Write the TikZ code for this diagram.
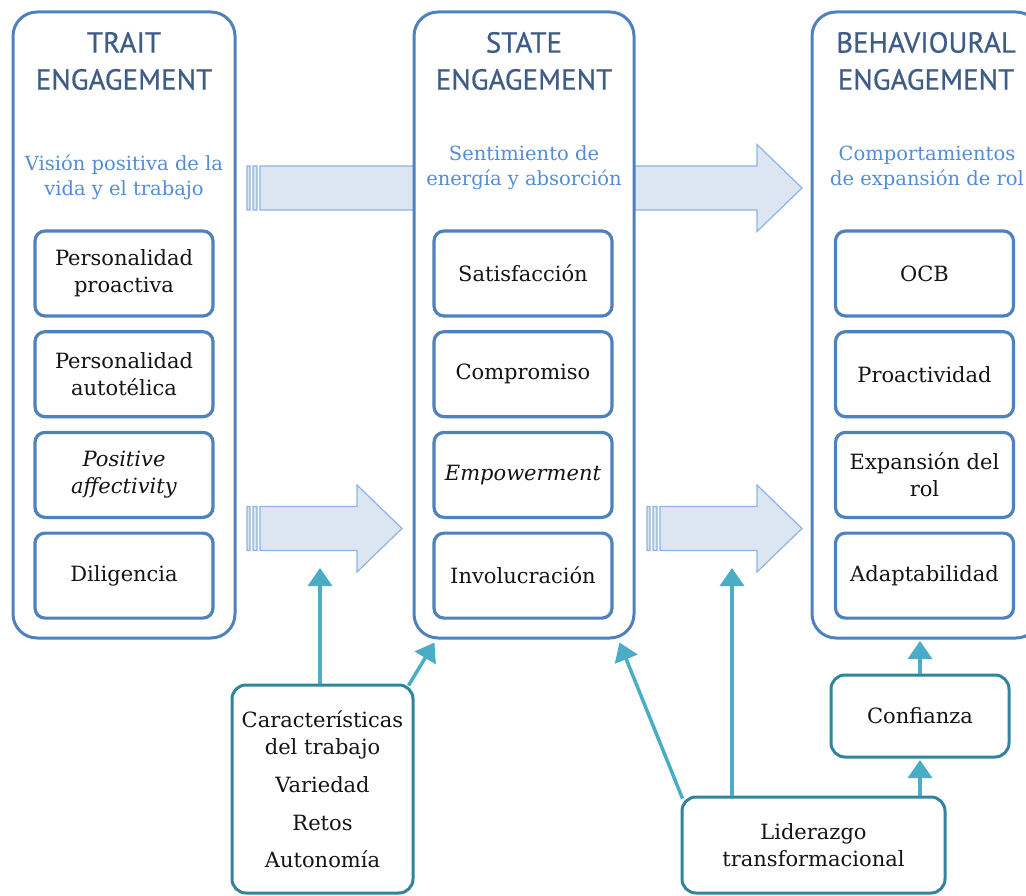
\documentclass[tikz,border=0pt]{standalone}
\usepackage{fontspec}
\setmainfont{DejaVu Serif}
\newfontfamily\headfont[FakeBold=0.7]{PT Sans}
\usetikzlibrary{positioning,arrows.meta,backgrounds}
\definecolor{frameblue}{HTML}{4F81BD}
\definecolor{headblue}{HTML}{3E5C86}
\definecolor{subblue}{HTML}{548DD4}
\definecolor{arrfill}{HTML}{DCE6F2}
\definecolor{arrline}{HTML}{8DB3E2}
\definecolor{tealline}{HTML}{31849B}
\definecolor{tealarrow}{HTML}{4BACC6}

% striped block arrow: tail x, tip x, middle y
\newcommand{\blockarrow}[3]{%
  \filldraw[fill=arrfill, draw=arrline, line width=1.2pt]
    (#1,{#3-22}) rectangle ({#1+3},{#3+22})
    ({#1+6},{#3-22}) rectangle ({#1+10},{#3+22})
    ({#1+13},{#3-22}) -- ({#2-45},{#3-22}) -- ({#2-45},{#3-43.5}) -- (#2,#3)
    -- ({#2-45},{#3+43.5}) -- ({#2-45},{#3+22}) -- ({#1+13},{#3+22}) -- cycle;
}

\begin{document}
\begin{tikzpicture}[
    x=1pt, y=-1pt,
    node distance=12.5pt,
    container/.style={rectangle, draw=frameblue, line width=3pt, fill=white, rounded corners=24pt, minimum height=626pt},
    title/.style={font=\headfont\fontsize{29}{37}\selectfont, text=headblue, align=center},
    subtitle/.style={font=\fontsize{19.5}{25}\selectfont, text=subblue, align=center},
    inbox/.style={rectangle, draw=frameblue, line width=3.2pt, fill=white, rounded corners=10pt, minimum width=178pt, minimum height=85pt, align=center, font=\fontsize{21}{27}\selectfont, text=black!92},
    factor/.style={rectangle, draw=tealline, line width=3pt, fill=white, rounded corners=14pt, align=center, font=\fontsize{21}{27}\selectfont, text=black!92},
    link/.style={tealarrow, line width=3.5pt, -{Triangle[length=18pt,width=24pt]}}
]
    \useasboundingbox (0,0) rectangle (1026,896);

    \node[container, minimum width=222pt] (trait) at (124,325) {};
    \node[container, minimum width=220pt] (state) at (524,325) {};
    \node[container, minimum width=228pt] (behav) at (926,325) {};

    \node[title] (trait-title) at (124,61) {TRAIT\\ENGAGEMENT};
    \node[title] (state-title) at (524,61) {STATE\\ENGAGEMENT};
    \node[title] (behav-title) at (926,61) {BEHAVIOURAL\\ENGAGEMENT};

    \node[subtitle] (trait-sub) at (124,177) {Visión positiva de la\\vida y el trabajo};
    \node[subtitle] (state-sub) at (524,168) {Sentimiento de\\energía y absorción};
    \node[subtitle] (behav-sub) at (927,168) {Comportamientos\\de expansión de rol};

    \node[inbox] (trait-1) at (124,273.5) {Personalidad\\proactiva};
    \node[inbox, below=of trait-1] (trait-2) {Personalidad\\autotélica};
    \node[inbox, below=of trait-2] (trait-3) {\textit{Positive}\\\textit{affectivity}};
    \node[inbox, below=of trait-3] (trait-4) {Diligencia};

    \node[inbox] (state-1) at (523,273.5) {Satisfacción};
    \node[inbox, below=of state-1] (state-2) {Compromiso};
    \node[inbox, below=of state-2] (state-3) {\textit{Empowerment}};
    \node[inbox, below=of state-3] (state-4) {Involucración};

    \node[inbox] (behav-1) at (924.5,273.5) {OCB};
    \node[inbox, below=of behav-1] (behav-2) {Proactividad};
    \node[inbox, below=of behav-2] (behav-3) {Expansión del\\rol};
    \node[inbox, below=of behav-3] (behav-4) {Adaptabilidad};

    \begin{scope}[on background layer]
        \blockarrow{247}{460}{188}
        \blockarrow{600}{802}{188}
        \blockarrow{247}{402}{528.5}
        \blockarrow{647}{802}{528.5}
    \end{scope}

    \node[factor, minimum width=181pt, minimum height=208pt] (caract) at (322.5,789) {Características\\del trabajo\\[11pt]Variedad\\[11pt]Retos\\[10pt]Autonomía};
    \node[factor, minimum width=263pt, minimum height=96pt] (lider) at (813.5,845) {Liderazgo\\transformacional};
    \node[factor, minimum width=178pt, minimum height=82pt] (conf) at (920,716) {Confianza};

    \coordinate (ca-tip) at (320,568);
    \coordinate (li-tip) at (732,568);
    \draw[link] (caract.north -| ca-tip) -- (ca-tip);
    \draw[link] ([xshift=-6pt,yshift=-2pt]caract.north east) -- ([xshift=22pt,yshift=-3pt]state.south west);
    \draw[link] ([xshift=2pt,yshift=-3pt]lider.north west) -- ([xshift=-16pt,yshift=-3pt]state.south east);
    \draw[link] (lider.north -| li-tip) -- (li-tip);
    \draw[link] (lider.north -| conf) -- ([yshift=-1.5pt]conf.south);
    \draw[link] (conf.north) -- ([yshift=-1.5pt]conf.north |- behav.south);
\end{tikzpicture}
\end{document}
